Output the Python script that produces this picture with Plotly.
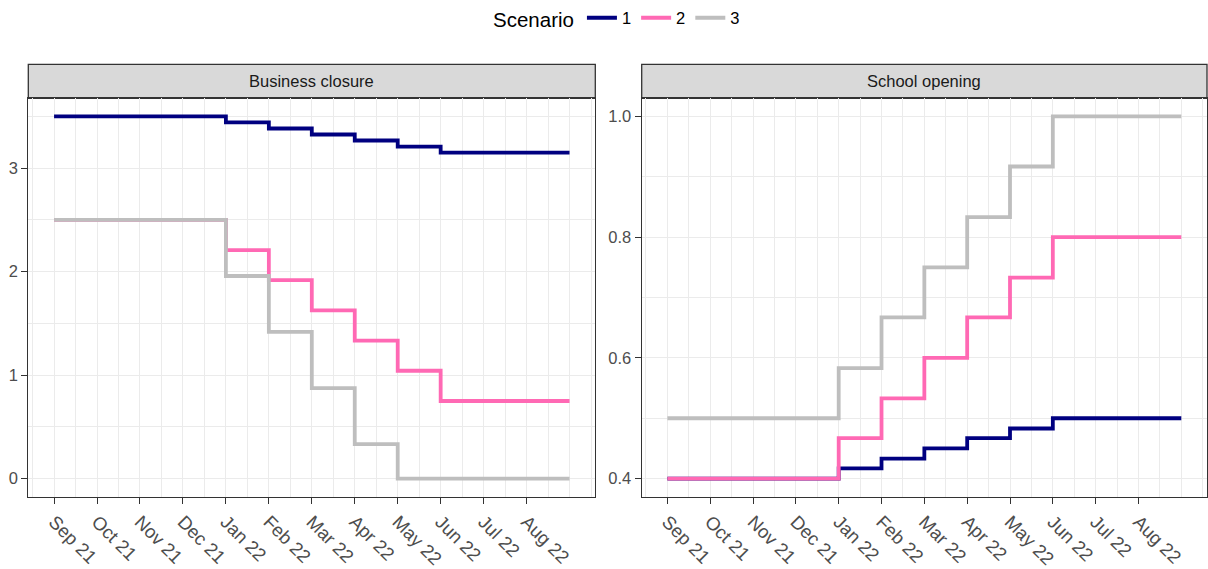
import plotly.graph_objects as go

# ---- data ----
months = ["Sep 21", "Oct 21", "Nov 21", "Dec 21", "Jan 22", "Feb 22",
          "Mar 22", "Apr 22", "May 22", "Jun 22", "Jul 22", "Aug 22"]
month_idx = list(range(13))  # 0 = Sep 21 ... 12 = Sep 22 (end of series)

facets = ["Business closure", "School opening"]
scenarios = ["1", "2", "3"]

business_s1 = [3.5, 3.5, 3.5, 3.5, 3.442, 3.383, 3.325, 3.267, 3.208, 3.15, 3.15, 3.15, 3.15]
business_s2 = [2.5, 2.5, 2.5, 2.5, 2.208, 1.917, 1.625, 1.333, 1.042, 0.75, 0.75, 0.75, 0.75]
business_s3 = [2.5, 2.5, 2.5, 2.5, 1.958, 1.417, 0.875, 0.333, 0.0, 0.0, 0.0, 0.0, 0.0]

school_s1 = [0.4, 0.4, 0.4, 0.4, 0.417, 0.433, 0.45, 0.467, 0.483, 0.5, 0.5, 0.5, 0.5]
school_s2 = [0.4, 0.4, 0.4, 0.4, 0.467, 0.533, 0.6, 0.667, 0.733, 0.8, 0.8, 0.8, 0.8]
school_s3 = [0.5, 0.5, 0.5, 0.5, 0.583, 0.667, 0.75, 0.833, 0.917, 1.0, 1.0, 1.0, 1.0]

colors = {"1": "#000080", "2": "#FF69B4", "3": "#BEBEBE"}

panel_series = [
    {"1": business_s1, "2": business_s2, "3": business_s3},
    {"1": school_s1, "2": school_s2, "3": school_s3},
]

# ---- layout geometry ----
W, H = 1208, 569
x_domains = [[28.3 / W, 595.3 / W], [641.7 / W, 1207.0 / W]]
y_domain = [1 - 496.7 / H, 1 - 98.3 / H]
strip_top = 1 - 64.3 / H

FONT = "Liberation Sans, Arial, Helvetica, sans-serif"
GRID = "#EBEBEB"
BORDER = "#333333"

fig = go.Figure()

for p, series in enumerate(panel_series):
    xa = "x" if p == 0 else "x2"
    ya = "y" if p == 0 else "y2"
    for s in scenarios:
        fig.add_trace(go.Scatter(
            x=month_idx, y=series[s], mode="lines",
            line=dict(color=colors[s], width=3.8, shape="hv"),
            name=s, legendgroup=s, showlegend=(p == 0),
            xaxis=xa, yaxis=ya, hoverinfo="skip",
        ))

major_x = list(range(12))
minor_x = [i * 0.5 for i in range(-1, 26) if (i * 0.5) not in major_x]

xaxis_common = dict(
    range=[-0.6, 12.6], tickmode="array", tickvals=major_x, ticktext=months,
    tickangle=45, ticks="outside", ticklen=6, tickwidth=1.3, tickcolor=BORDER,
    tickfont=dict(family=FONT, size=18.5, color="#4D4D4D"),
    showgrid=True, gridcolor=GRID, gridwidth=1.4,
    minor=dict(tickvals=minor_x, showgrid=True, gridcolor=GRID, gridwidth=0.8, ticks=""),
    showline=True, mirror=True, linecolor=BORDER, linewidth=1.3,
    zeroline=False, fixedrange=True, automargin=False,
)
yaxis_common = dict(
    ticks="outside", ticklen=6, tickwidth=1.3, tickcolor=BORDER,
    tickfont=dict(family=FONT, size=16.5, color="#4D4D4D"),
    showgrid=True, gridcolor=GRID, gridwidth=1.4,
    showline=True, mirror=True, linecolor=BORDER, linewidth=1.3,
    zeroline=False, fixedrange=True, automargin=False,
)

fig.update_layout(
    width=W, height=H,
    margin=dict(l=0, r=0, t=0, b=0, autoexpand=False),
    paper_bgcolor="white", plot_bgcolor="white",
    font=dict(family=FONT, color="#1A1A1A"),
    xaxis=dict(domain=x_domains[0], anchor="y", **xaxis_common),
    xaxis2=dict(domain=x_domains[1], anchor="y2", **xaxis_common),
    yaxis=dict(domain=y_domain, anchor="x", range=[-0.175, 3.675],
               tickvals=[0, 1, 2, 3],
               minor=dict(tickvals=[0.5, 1.5, 2.5, 3.5], showgrid=True, gridcolor=GRID, gridwidth=0.8, ticks=""),
               **yaxis_common),
    yaxis2=dict(domain=y_domain, anchor="x2", range=[0.37, 1.03],
                tickvals=[0.4, 0.6, 0.8, 1.0], ticktext=["0.4", "0.6", "0.8", "1.0"],
                minor=dict(tickvals=[0.5, 0.7, 0.9], showgrid=True, gridcolor=GRID, gridwidth=0.8, ticks=""),
                **yaxis_common),
    legend=dict(
        orientation="h", x=0.5116, xanchor="center", y=1 - 19 / H, yanchor="middle",
        title=dict(text="Scenario", font=dict(family=FONT, size=20.5, color="black"), side="left"),
        font=dict(family=FONT, size=16.5, color="black"),
        itemwidth=30, bgcolor="rgba(0,0,0,0)",
    ),
)

# facet strips
for p, name in enumerate(facets):
    x0, x1 = x_domains[p]
    fig.add_shape(type="rect", xref="paper", yref="paper",
                  x0=x0, x1=x1, y0=y_domain[1], y1=strip_top,
                  fillcolor="#D9D9D9", line=dict(color=BORDER, width=1.3), layer="below")
    fig.add_annotation(xref="paper", yref="paper", x=(x0 + x1) / 2,
                       y=(y_domain[1] + strip_top) / 2, text=name, showarrow=False,
                       font=dict(family=FONT, size=16.5, color="#1A1A1A"),
                       xanchor="center", yanchor="middle")

fig.write_html(
    "out.html",
    config={"displayModeBar": False, "responsive": False},
    post_script="document.body.style.margin='0';document.body.style.padding='0';"
                "document.documentElement.style.overflow='hidden';",
)
